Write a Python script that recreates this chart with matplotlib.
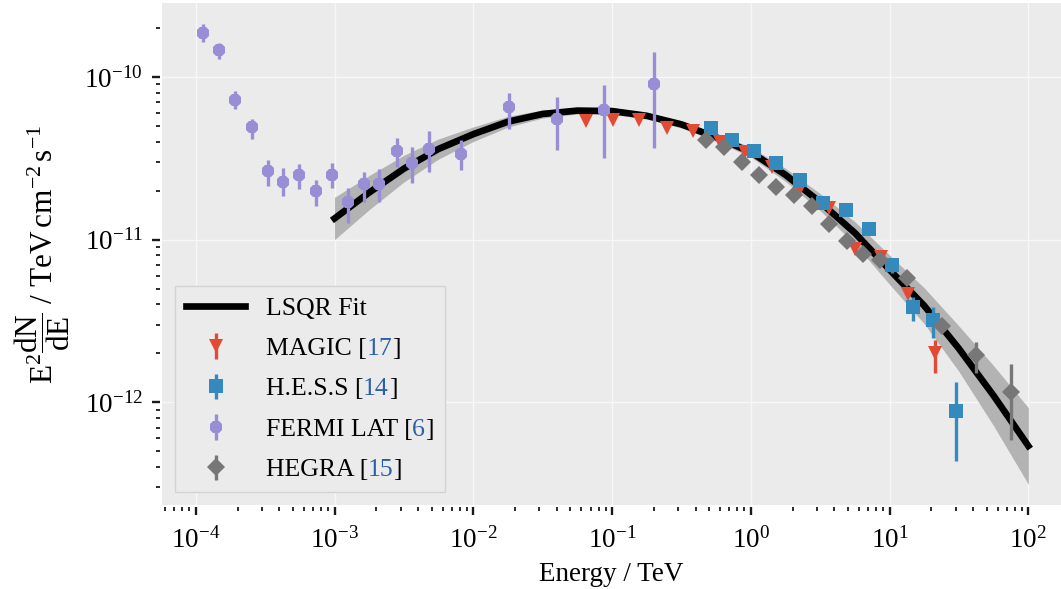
import numpy as np
import matplotlib
matplotlib.use("Agg")
import matplotlib.pyplot as plt
from matplotlib.ticker import NullFormatter

# LSQR fit, quarter-decade steps in energy (TeV)
fit_energy = [1.0e-3, 1.78e-3, 3.16e-3, 5.62e-3, 1.0e-2, 1.78e-2, 3.16e-2, 5.62e-2,
              0.1, 0.178, 0.316, 0.562, 1.0, 1.78, 3.16, 5.62, 10.0, 17.8, 31.6, 56.2, 100.0]
fit_flux = [1.35e-11, 1.95e-11, 2.73e-11, 3.61e-11, 4.45e-11, 5.31e-11, 5.92e-11, 6.21e-11,
            6.17e-11, 5.77e-11, 5.11e-11, 4.26e-11, 3.45e-11, 2.50e-11, 1.70e-11, 1.10e-11,
            6.53e-12, 3.92e-12, 2.14e-12, 1.10e-12, 5.40e-13]
fit_hi = [1.82e-11, 2.48e-11, 3.30e-11, 4.16e-11, 4.93e-11, 5.73e-11, 6.27e-11, 6.50e-11,
          6.46e-11, 6.04e-11, 5.38e-11, 4.51e-11, 3.70e-11, 2.74e-11, 1.92e-11, 1.29e-11,
          8.03e-12, 5.05e-12, 2.95e-12, 1.68e-12, 9.28e-13]
fit_lo = [1.00e-11, 1.53e-11, 2.26e-11, 3.13e-11, 4.01e-11, 4.92e-11, 5.59e-11, 5.93e-11,
          5.89e-11, 5.51e-11, 4.86e-11, 4.02e-11, 3.22e-11, 2.28e-11, 1.51e-11, 9.40e-12,
          5.31e-12, 3.04e-12, 1.55e-12, 7.18e-13, 3.14e-13]

# MAGIC
magic_e = [0.0649, 0.102, 0.157, 0.247, 0.385, 0.599, 0.906, 1.41, 2.28, 3.64, 5.67, 8.65, 13.5, 21.2]
magic_flux = [5.37e-11, 5.42e-11, 5.47e-11, 4.84e-11, 4.66e-11, 3.97e-11, 3.44e-11, 2.81e-11,
              2.06e-11, 1.57e-11, 8.75e-12, 7.8e-12, 4.62e-12, 2.00e-12]
magic_hi = [5.37e-11, 5.42e-11, 5.47e-11, 4.84e-11, 4.66e-11, 3.97e-11, 3.44e-11, 2.81e-11,
            2.06e-11, 1.57e-11, 8.75e-12, 7.8e-12, 4.62e-12, 2.41e-12]
magic_lo = [5.37e-11, 5.42e-11, 5.47e-11, 4.84e-11, 4.66e-11, 3.97e-11, 3.44e-11, 2.81e-11,
            2.06e-11, 1.57e-11, 8.75e-12, 7.8e-12, 4.62e-12, 1.52e-12]

# H.E.S.S
hess_e = [0.519, 0.727, 1.06, 1.53, 2.26, 3.30, 4.87, 7.07, 10.4, 14.7, 20.6, 30.2]
hess_flux = [4.87e-11, 4.08e-11, 3.50e-11, 2.94e-11, 2.34e-11, 1.67e-11, 1.52e-11, 1.17e-11,
             6.97e-12, 3.85e-12, 3.19e-12, 8.87e-13]
hess_hi = [4.87e-11, 4.08e-11, 3.50e-11, 2.94e-11, 2.34e-11, 1.67e-11, 1.52e-11, 1.17e-11,
           7.75e-12, 4.47e-12, 3.84e-12, 1.34e-12]
hess_lo = [4.87e-11, 4.08e-11, 3.50e-11, 2.94e-11, 2.34e-11, 1.67e-11, 1.52e-11, 1.17e-11,
           6.27e-12, 3.16e-12, 2.47e-12, 4.37e-13]

# FERMI LAT
fermi_e = [1.12e-4, 1.47e-4, 1.92e-4, 2.53e-4, 3.30e-4, 4.28e-4, 5.55e-4, 7.32e-4, 9.64e-4,
           1.24e-3, 1.64e-3, 2.10e-3, 2.81e-3, 3.64e-3, 4.80e-3, 8.12e-3, 1.82e-2, 3.99e-2,
           8.79e-2, 0.201]
fermi_flux = [1.85e-10, 1.46e-10, 7.26e-11, 4.89e-11, 2.64e-11, 2.25e-11, 2.49e-11, 2.00e-11,
              2.49e-11, 1.71e-11, 2.21e-11, 2.19e-11, 3.51e-11, 2.94e-11, 3.60e-11, 3.38e-11,
              6.49e-11, 5.54e-11, 6.24e-11, 9.02e-11]
fermi_hi = [2.11e-10, 1.62e-10, 8.17e-11, 5.50e-11, 3.08e-11, 2.75e-11, 2.91e-11, 2.32e-11,
            2.95e-11, 2.07e-11, 2.61e-11, 2.71e-11, 4.20e-11, 3.72e-11, 4.64e-11, 4.08e-11,
            8.02e-11, 7.53e-11, 8.98e-11, 1.42e-10]
fermi_lo = [1.64e-10, 1.29e-10, 6.34e-11, 4.16e-11, 2.13e-11, 1.85e-11, 2.04e-11, 1.61e-11,
            2.08e-11, 1.27e-11, 1.71e-11, 1.70e-11, 2.80e-11, 2.23e-11, 2.61e-11, 2.67e-11,
            4.82e-11, 3.58e-11, 3.16e-11, 3.65e-11]

# HEGRA
hegra_e = [0.478, 0.637, 0.859, 1.15, 1.53, 2.04, 2.74, 3.66, 4.90, 6.46, 8.59, 13.4, 23.7, 41.9, 74.5]
hegra_flux = [4.12e-11, 3.70e-11, 3.01e-11, 2.48e-11, 2.12e-11, 1.88e-11, 1.61e-11, 1.24e-11,
              9.82e-12, 8.17e-12, 7.55e-12, 5.85e-12, 2.95e-12, 1.95e-12, 1.15e-12]
hegra_hi = [4.12e-11, 3.70e-11, 3.01e-11, 2.48e-11, 2.12e-11, 1.88e-11, 1.61e-11, 1.24e-11,
            9.82e-12, 8.17e-12, 7.55e-12, 5.85e-12, 2.95e-12, 2.36e-12, 1.71e-12]
hegra_lo = [4.12e-11, 3.70e-11, 3.01e-11, 2.48e-11, 2.12e-11, 1.88e-11, 1.61e-11, 1.24e-11,
            9.82e-12, 8.17e-12, 7.55e-12, 5.85e-12, 2.95e-12, 1.51e-12, 5.85e-13]

names = ["MAGIC", "H.E.S.S", "FERMI LAT", "HEGRA"]
refs = ["17", "14", "6", "15"]

plt.rcParams["font.family"] = ["Liberation Serif", "DejaVu Serif"]
plt.rcParams["mathtext.fontset"] = "custom"
plt.rcParams["mathtext.rm"] = "Liberation Serif"
plt.rcParams["mathtext.it"] = "Liberation Serif:italic"
plt.rcParams["mathtext.bf"] = "Liberation Serif:bold"
plt.rcParams["font.size"] = 18.5

fig = plt.figure(figsize=(10.61, 5.89), dpi=100)
ax = fig.add_axes([0.153, 0.1426, 0.847, 0.852])
ax.set_facecolor("#EBEBEB")
for s in ax.spines.values():
    s.set_visible(False)
ax.spines["left"].set_position(("outward", 1.7))
ax.spines["bottom"].set_position(("outward", 1.7))

ax.set_xscale("log")
ax.set_yscale("log")
ax.set_xlim(5.74e-5, 172)
ax.set_ylim(2.34e-13, 2.84e-10)
ax.grid(True, which="major", color="#F7F7F7", lw=1.0)
ax.set_axisbelow(True)
ax.tick_params(which="major", direction="out", length=5.5, width=1.7, color="#1A1A1A",
               labelsize=19.5)
ax.tick_params(which="minor", direction="out", length=3, width=1.3, color="#1A1A1A")
ax.tick_params(axis="y", which="major", pad=7)
ax.tick_params(axis="x", which="major", pad=9)
ax.yaxis.set_minor_formatter(NullFormatter())
ax.xaxis.set_minor_formatter(NullFormatter())

# fit with uncertainty band
ax.fill_between(fit_energy, fit_lo, fit_hi, color="#B3B3B3", lw=0, zorder=1)
ax.plot(fit_energy, fit_flux, color="black", lw=4.8, label="LSQR Fit", zorder=2)

datasets = [
    (magic_e, magic_flux, magic_lo, magic_hi, "#E24A33", "v", 10.5),
    (hess_e, hess_flux, hess_lo, hess_hi, "#348ABD", "s", 9.8),
    (fermi_e, fermi_flux, fermi_lo, fermi_hi, "#988ED5", "8", 10),
    (hegra_e, hegra_flux, hegra_lo, hegra_hi, "#777777", "D", 9),
]
for (e, f, lo, hi, col, mk, ms), name, ref in zip(datasets, names, refs):
    f = np.array(f)
    yerr = [f - np.array(lo), np.array(hi) - f]
    ax.errorbar(e, f, yerr=yerr, fmt=mk, color=col, ms=ms, mew=0,
                elinewidth=2.4, capsize=0, label=f"{name} [{ref}]", zorder=3)

ax.set_xlabel("Energy / TeV", fontsize=19.5, labelpad=6)
ax.set_ylabel(r"$\mathrm{E}^2\dfrac{\mathrm{dN}}{\mathrm{dE}}$ / $\mathrm{TeV\,cm^{-2}\,s^{-1}}$",
              fontsize=22.5, labelpad=9)

leg = ax.legend(loc="lower left", handlelength=2.3, labelspacing=0.68, borderpad=0.42,
                fancybox=False, facecolor="#EBEBEB", edgecolor="#D3D3D3", framealpha=1,
                numpoints=1, fontsize=18.5)
leg.get_frame().set_linewidth(1.0)

# legend texts keep their size for layout; redraw them with the citation number in blue
for txt, name, ref in zip(leg.get_texts()[1:], names, refs):
    txt.set_alpha(0)
    a = ax.annotate(name + " [", xycoords=txt, xy=(0, 0), va="bottom", ha="left",
                    color="black", fontsize=18.5, annotation_clip=False, zorder=6)
    b = ax.annotate(ref, xycoords=a, xy=(1, 0), va="bottom", color="#2B5FA8",
                    fontsize=18.5, annotation_clip=False, zorder=6)
    ax.annotate("]", xycoords=b, xy=(1, 0), va="bottom", color="black",
                fontsize=18.5, annotation_clip=False, zorder=6)

fig.canvas.draw()
fig.savefig("out.png", dpi=100)
